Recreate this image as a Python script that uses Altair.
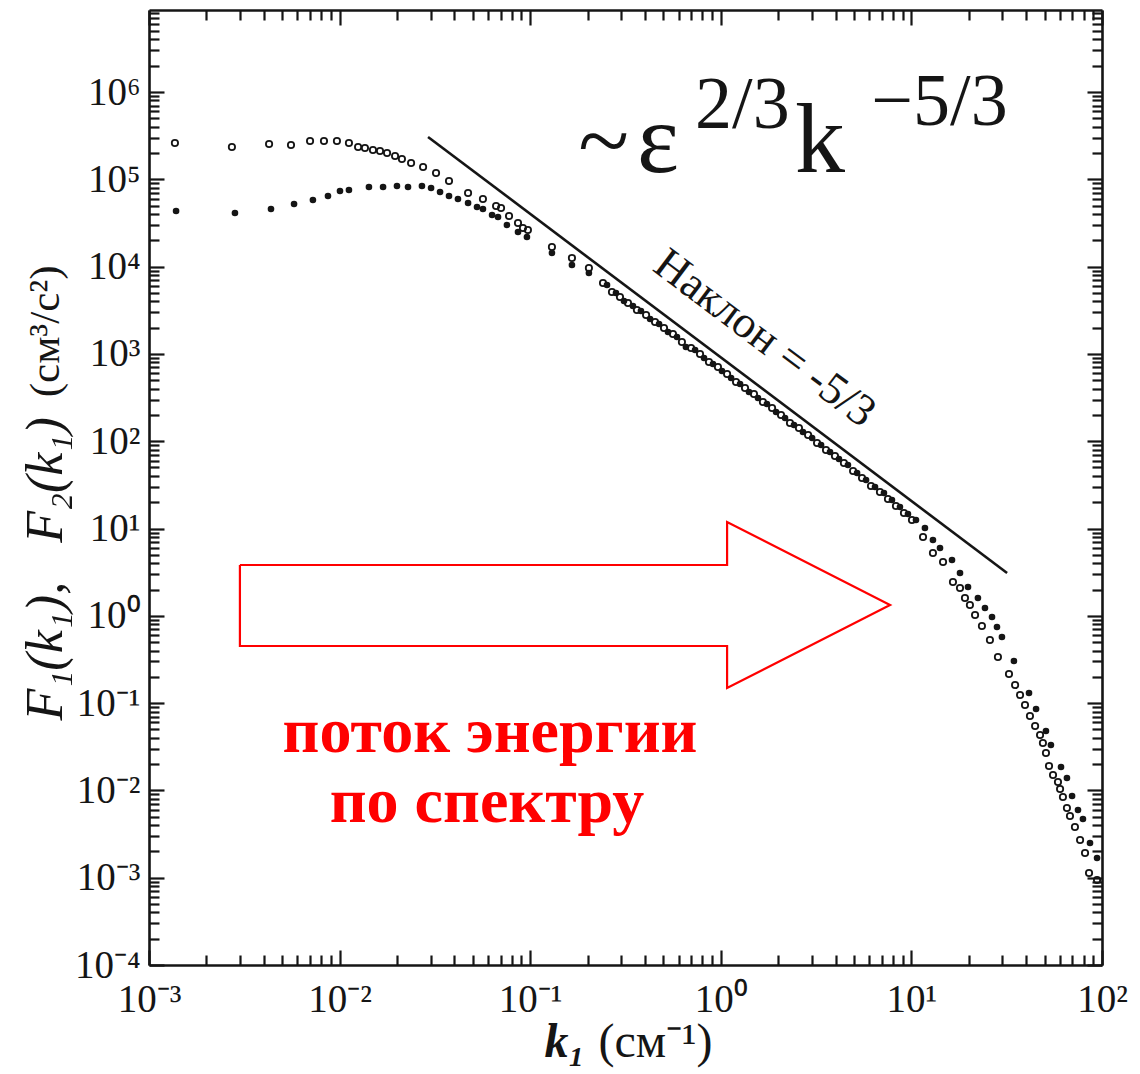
import altair as alt
import numpy as np
import pandas as pd

# ---------------- data: log10 values ----------------
# open circles, F1(k1)
open_log_k = [-2.864, -2.565, -2.370, -2.255, -2.155, -2.082, -2.014, -1.951, -1.903, -1.867,
              -1.825, -1.788, -1.751, -1.709, -1.673, -1.625, -1.562, -1.494, -1.426, -1.326,
              -1.248, -1.179, -1.153, -1.111, -1.064, -1.038, -1.012, -0.886, -0.781, -0.692,
              -0.618, -0.571, -0.529, -0.487, -0.440, -0.392, -0.345, -0.298, -0.251, -0.204,
              -0.156, -0.109, -0.062, -0.015, 0.033, 0.080, 0.127, 0.174, 0.221, 0.269,
              0.316, 0.363, 0.410, 0.458, 0.505, 0.552, 0.599, 0.646, 0.694, 0.741,
              0.788, 0.835, 0.877, 0.919, 0.961, 1.003,
              1.061, 1.113, 1.166, 1.218, 1.255, 1.281, 1.307, 1.334, 1.370, 1.412,
              1.454, 1.512, 1.544, 1.570, 1.596, 1.622, 1.649, 1.675, 1.690, 1.706,
              1.722, 1.743, 1.769, 1.780, 1.795, 1.816, 1.832, 1.858, 1.885, 1.911,
              1.932, 1.974]
open_log_F = [5.416, 5.370, 5.404, 5.393, 5.439, 5.439, 5.439, 5.416, 5.370, 5.359,
              5.336, 5.324, 5.301, 5.267, 5.233, 5.187, 5.141, 5.072, 4.981, 4.843,
              4.774, 4.694, 4.671, 4.580, 4.500, 4.442, 4.419, 4.225, 4.099, 3.984,
              3.812, 3.709, 3.652, 3.583, 3.503, 3.446, 3.366, 3.297, 3.228, 3.137,
              3.068, 2.999, 2.907, 2.850, 2.770, 2.678, 2.610, 2.541, 2.449, 2.380,
              2.300, 2.209, 2.151, 2.071, 1.980, 1.899, 1.831, 1.750, 1.659, 1.579,
              1.487, 1.418, 1.338, 1.258, 1.178, 1.098,
              0.903, 0.719, 0.616, 0.387, 0.319, 0.204, 0.124, 0.009, -0.117, -0.277,
              -0.472, -0.667, -0.793, -0.907, -1.022, -1.148, -1.262, -1.365, -1.457, -1.572,
              -1.720, -1.824, -1.904, -1.984, -2.076, -2.202, -2.293, -2.419, -2.568, -2.717,
              -2.946, -3.026]

# filled dots, F2(k1)
filled_log_k = [-2.858, -2.549, -2.360, -2.239, -2.140, -2.061, -1.998, -1.951, -1.846, -1.772,
                -1.699, -1.641, -1.568, -1.520, -1.473, -1.426, -1.379, -1.326, -1.279, -1.248,
                -1.200, -1.169, -1.122, -1.064, -1.017, -0.886, -0.781, -0.692,
                -0.597, -0.550, -0.508, -0.461, -0.419, -0.371, -0.324, -0.277, -0.230, -0.183,
                -0.135, -0.088, -0.041, 0.006, 0.054, 0.101, 0.148, 0.195, 0.242, 0.290,
                0.337, 0.384, 0.431, 0.479, 0.526, 0.573, 0.620, 0.667, 0.715, 0.762,
                0.809, 0.856, 0.898, 0.940, 0.982, 1.024,
                1.071, 1.113, 1.150, 1.213, 1.255, 1.297, 1.349, 1.386, 1.423, 1.449,
                1.475, 1.538, 1.617, 1.654, 1.706, 1.732, 1.785, 1.816, 1.843, 1.874,
                1.900, 1.937, 1.974]
filled_log_F = [4.637, 4.614, 4.660, 4.717, 4.763, 4.809, 4.866, 4.877, 4.912, 4.912,
                4.923, 4.912, 4.923, 4.900, 4.855, 4.809, 4.774, 4.729, 4.683, 4.660,
                4.591, 4.568, 4.477, 4.396, 4.339, 4.156, 4.018, 3.927,
                3.789, 3.698, 3.606, 3.549, 3.492, 3.400, 3.343, 3.251, 3.194, 3.079,
                3.045, 2.953, 2.884, 2.804, 2.724, 2.655, 2.564, 2.495, 2.426, 2.335,
                2.266, 2.186, 2.106, 2.037, 1.957, 1.876, 1.796, 1.728, 1.636, 1.556,
                1.475, 1.407, 1.327, 1.247, 1.166, 1.098,
                1.006, 0.868, 0.777, 0.639, 0.490, 0.330, 0.204, 0.089, -0.014, -0.128,
                -0.243, -0.518, -0.884, -1.068, -1.320, -1.480, -1.732, -1.858, -2.064, -2.224,
                -2.328, -2.602, -2.774]

# -5/3 reference line end points
slope_log_k = [-1.536, 1.502]
slope_log_F = [5.485, 0.490]

# red outline arrow (vertices)
arrow_log_k = [-2.523, 0.033, 0.033, 0.888, 0.033, 0.033, -2.523, -2.523]
arrow_log_F = [0.582, 0.582, 1.075, 0.124, -0.827, -0.346, -0.346, 0.582]

# tick values
x_decades = [-3, -2, -1, 0, 1, 2]
y_decades = [-4, -3, -2, -1, 0, 1, 2, 3, 4, 5, 6]
x_tick_values = [10.0 ** d for d in x_decades] + [m * 10.0 ** d for d in x_decades[:-1] for m in range(2, 10)]
y_tick_values = [10.0 ** d for d in y_decades] + [m * 10.0 ** d for d in y_decades for m in range(2, 10)]

# annotations (log10 positions)
formula_tilde = pd.DataFrame({"lk": [-0.748], "lF": [5.084], "t": ["~"]})
formula_base = pd.DataFrame({"lk": [-0.440, 0.389], "lF": [5.084, 5.084], "t": ["ε", "k"]})
formula_sup = pd.DataFrame({"lk": [-0.135, 0.790], "lF": [5.588, 5.622], "t": ["2/3", "−5/3"]})
slope_label = pd.DataFrame({"lk": [0.232], "lF": [3.182], "t": ["Наклон = -5/3"]})
flow_label = pd.DataFrame({"lk": [-1.211, -1.227], "lF": [-1.560, -2.362], "t": ["поток энергии", "по спектру"]})

# ---------------- build tables ----------------
def to_df(lk, lF, **extra):
    d = pd.DataFrame({"k": np.power(10.0, lk), "F": np.power(10.0, lF)})
    for key, v in extra.items():
        d[key] = v
    return d

open_df = to_df(open_log_k, open_log_F)
filled_df = to_df(filled_log_k, filled_log_F)
slope_df = to_df(slope_log_k, slope_log_F)
arrow_df = to_df(arrow_log_k, arrow_log_F, o=list(range(len(arrow_log_k))))

def ann(df):
    d = df.copy()
    d["k"] = np.power(10.0, d["lk"])
    d["F"] = np.power(10.0, d["lF"])
    return d

FONT = "Liberation Serif, Times New Roman, serif"
INK = "#151515"
NB = "\u00a0"
XS = alt.Scale(type="log", domain=[1e-3, 1e2], nice=False)
YS = alt.Scale(type="log", domain=[1e-4, 8.7e6], nice=False)

DECADE = "abs(log(datum.value) / LN10 - round(log(datum.value) / LN10)) < 0.001"
sup = "toString(round(log(datum.value) / LN10))"
for a, b in [("-", "⁻"), ("0", "⁰"), ("1", "¹"), ("2", "²"), ("3", "³"), ("4", "⁴"),
             ("5", "⁵"), ("6", "⁶"), ("7", "⁷"), ("8", "⁸"), ("9", "⁹")]:
    sup = f"replace({sup}, '{a}', '{b}')"
LABEL_EXPR = f"{DECADE} ? '10' + {sup} : ''"


def tick_axis(orient, values, labels, pad, **kw):
    return alt.Axis(
        orient=orient, values=values, labels=labels, labelExpr=LABEL_EXPR,
        labelFont=FONT, labelFontSize=39, labelColor=INK, labelPadding=pad,
        labelOverlap=False, labelFlush=False,
        tickSize={"expr": "-15"}, tickWidth=2.2, tickColor=INK,
        tickDash={"condition": {"test": DECADE, "value": []}, "value": [10, 60]},
        domain=True, domainColor=INK, domainWidth=2.6, grid=False, **kw)


x_bottom = tick_axis("bottom", x_tick_values, True, 30,
                     title="(см⁻¹)", titleFont=FONT, titleFontSize=48, titleFontWeight="normal",
                     titleColor=INK, titleX=563, titleY=91, titleAlign="right",
                     titleBaseline="alphabetic", titleAngle=0)
y_left = tick_axis("left", y_tick_values, True, 24,
                   title="(см³/с²)", titleFont=FONT, titleFontSize=43, titleFontWeight="normal",
                   titleColor=INK, titleX=-104, titleY=255, titleAlign="right",
                   titleBaseline="middle", titleAngle=270)
x_top = tick_axis("top", x_tick_values, False, 0, title="")
y_right = tick_axis("right", y_tick_values, False, 0, title="")

x_title2 = alt.Axis(orient="bottom", ticks=False, labels=False, domain=False, grid=False,
                    title="k₁", titleFont=FONT, titleFontSize=48, titleFontWeight="bold",
                    titleFontStyle="italic", titleColor=INK, titleX=395, titleY=91,
                    titleAlign="left", titleBaseline="alphabetic", titleAngle=0)
y_title2 = alt.Axis(orient="left", ticks=False, labels=False, domain=False, grid=False,
                    title=f"F₁(k₁),{NB}{NB}{NB}F₂(k₁)", titleFont=FONT, titleFontSize=52,
                    titleFontWeight="normal", titleFontStyle="italic", titleColor=INK,
                    titleX=-104, titleY=710, titleAlign="left", titleBaseline="middle",
                    titleAngle=270)

open_pts = alt.Chart(open_df).mark_point(shape="circle", filled=False, color=INK, size=40,
                                         strokeWidth=1.8, opacity=1).encode(
    x=alt.X("k:Q", scale=XS, axis=x_bottom),
    y=alt.Y("F:Q", scale=YS, axis=y_left))

filled_pts = alt.Chart(filled_df).mark_circle(color=INK, size=44, opacity=1).encode(
    x=alt.X("k:Q", scale=XS, axis=x_top),
    y=alt.Y("F:Q", scale=YS, axis=y_right))

slope = alt.Chart(slope_df).mark_line(color=INK, strokeWidth=2.6).encode(
    x=alt.X("k:Q", scale=XS, axis=x_title2),
    y=alt.Y("F:Q", scale=YS, axis=y_title2))

arrow = alt.Chart(arrow_df).mark_line(color="#ff0000", strokeWidth=2.2).encode(
    x=alt.X("k:Q", scale=XS, axis=None),
    y=alt.Y("F:Q", scale=YS, axis=None),
    order="o:Q")


def text_layer(df, **mk):
    return alt.Chart(ann(df)).mark_text(font=FONT, **mk).encode(
        x=alt.X("k:Q", scale=XS, axis=None),
        y=alt.Y("F:Q", scale=YS, axis=None),
        text="t:N")


t_tilde = text_layer(formula_tilde, fontSize=94, align="left", baseline="alphabetic", color=INK)
t_base = text_layer(formula_base, fontSize=100, align="left", baseline="alphabetic", color=INK)
t_sup = text_layer(formula_sup, fontSize=74, align="left", baseline="alphabetic", color=INK)
t_slope = text_layer(slope_label, fontSize=45, align="center", baseline="middle", angle=37, color=INK)
t_flow = text_layer(flow_label, fontSize=64, fontWeight="bold", align="center",
                    baseline="alphabetic", color="#ff0000")

chart = alt.layer(open_pts, filled_pts, slope, arrow, t_tilde, t_base, t_sup, t_slope, t_flow).resolve_axis(
    x="independent", y="independent"
).properties(
    width=953, height=955,
    autosize=alt.AutoSizeParams(type="none"),
    padding={"left": 141, "top": 2, "right": 30, "bottom": 106},
    background="white",
).configure_view(strokeWidth=0)

chart.save("out.html", embed_options={"renderer": "svg", "actions": False})
